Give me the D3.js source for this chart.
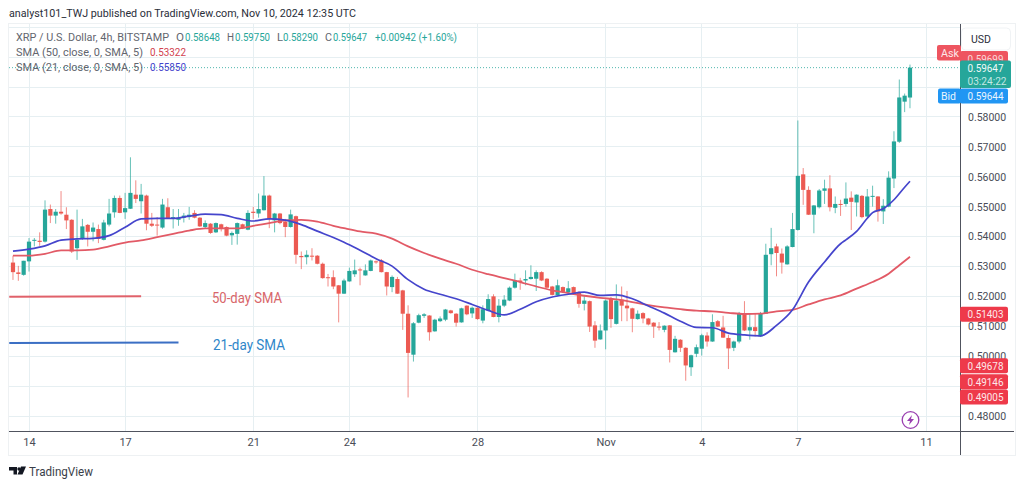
<!DOCTYPE html>
<html><head><meta charset="utf-8">
<script src="https://cdn.jsdelivr.net/npm/d3@7/dist/d3.min.js"></script>
<style>html,body{margin:0;padding:0;background:#fff}svg{display:block}text{font-family:Roboto,"Noto Sans",sans-serif}</style>
</head><body><svg id="c" width="1024" height="487"></svg>
<script>
const firstIndex = -3;
const opens = [.5313,.5280,.5272,.5317,.5386,.5386,.5383,.5492,.5470,.5483,.5473,.5456,.5361,.5392,.5439,.5416,.5425,.5389,.5440,.5481,
.5529,.5481,.5493,.5540,.5518,.5537,.5443,.5440,.5430,.5498,.5461,.5456,.5463,.5465,.5479,.5463,.5432,.5443,.5414,.5441,
.5432,.5404,.5409,.5441,.5423,.5483,.5477,.5488,.5537,.5454,.5477,.5450,.5432,.5468,.5335,.5331,.5336,.5336,.5309,.5264,
.5264,.5237,.5209,.5250,.5274,.5290,.5270,.5285,.5317,.5320,.5281,.5231,.5258,.5220,.5142,.5005,.5112,.5135,.5136,.5083,
.5117,.5122,.5153,.5142,.5113,.5169,.5143,.5162,.5119,.5153,.5200,.5131,.5169,.5186,.5229,.5253,.5253,.5258,.5259,.5281,
.5259,.5233,.5203,.5231,.5213,.5231,.5214,.5175,.5184,.5103,.5056,.5086,.5193,.5108,.5189,.5169,.5160,.5124,.5144,.5126,
.5112,.5099,.5088,.5103,.5013,.5055,.5028,.4963,.5008,.5025,.5069,.5049,.5117,.5096,.5061,.5028,.5049,.5143,.5086,.5097,
.5066,.5142,.5341,.5367,.5343,.5307,.5365,.5422,.5608,.5556,.5473,.5498,.5553,.5561,.5496,.5509,.5509,.5530,.5514,.5536,
.5467,.5534,.5534,.5484,.5500,.5594,.5717,.5851,.58648];
const highs = [.5336,.5302,.5319,.5395,.5395,.5414,.5521,.5507,.5492,.5552,.5498,.5458,.5490,.5459,.5442,.5447,.5440,.5456,.5526,.5537,
.5537,.5546,.5665,.5588,.5576,.5540,.5479,.5465,.5526,.5528,.5492,.5492,.5479,.5499,.5488,.5465,.5454,.5445,.5447,.5443,
.5434,.5417,.5447,.5443,.5488,.5499,.5544,.5602,.5540,.5479,.5479,.5459,.5490,.5470,.5350,.5354,.5361,.5338,.5313,.5275,
.5287,.5238,.5259,.5296,.5323,.5296,.5307,.5323,.5320,.5325,.5282,.5270,.5265,.5222,.5170,.5114,.5142,.5144,.5137,.5125,
.5133,.5158,.5155,.5144,.5162,.5170,.5166,.5164,.5170,.5207,.5207,.5191,.5204,.5233,.5276,.5262,.5287,.5304,.5287,.5284,
.5261,.5235,.5256,.5233,.5251,.5233,.5217,.5202,.5186,.5117,.5106,.5189,.5198,.5240,.5233,.5218,.5162,.5153,.5147,.5128,
.5114,.5114,.5103,.5104,.5068,.5057,.5030,.5005,.5039,.5075,.5080,.5140,.5121,.5135,.5072,.5052,.5148,.5184,.5144,.5144,
.5148,.5376,.5429,.5376,.5360,.5371,.5479,.5788,.5629,.5568,.5505,.5559,.5590,.5605,.5534,.5523,.5581,.5551,.5541,.5539,
.5559,.5570,.5535,.5525,.5618,.5752,.5925,.5878,.59750];
const lows = [.5255,.5252,.5269,.5283,.5367,.5369,.5380,.5445,.5443,.5473,.5425,.5345,.5322,.5389,.5367,.5384,.5378,.5387,.5434,.5463,
.5478,.5459,.5492,.5512,.5477,.5421,.5432,.5403,.5426,.5460,.5427,.5436,.5447,.5456,.5461,.5432,.5427,.5409,.5412,.5417,
.5401,.5372,.5373,.5425,.5421,.5459,.5463,.5487,.5428,.5414,.5441,.5398,.5430,.5309,.5291,.5307,.5320,.5307,.5259,.5233,
.5224,.5113,.5208,.5249,.5265,.5237,.5269,.5284,.5309,.5280,.5203,.5214,.5208,.5088,.4862,.4982,.5110,.5128,.5052,.5082,
.5114,.5117,.5142,.5099,.5112,.5137,.5128,.5122,.5110,.5152,.5130,.5113,.5164,.5184,.5226,.5222,.5237,.5256,.5218,.5251,
.5226,.5203,.5201,.5211,.5211,.5207,.5162,.5153,.5081,.5028,.5055,.5023,.5095,.5106,.5117,.5117,.5080,.5122,.5110,.5103,
.5061,.5086,.5080,.4979,.5012,.5014,.4918,.4934,.4997,.5002,.5032,.5048,.5097,.5061,.4957,.5017,.5043,.5084,.5055,.5066,
.5064,.5141,.5304,.5267,.5276,.5306,.5364,.5420,.5506,.5472,.5411,.5494,.5509,.5484,.5478,.5469,.5500,.5422,.5467,.5461,
.5465,.5500,.5450,.5442,.5498,.5562,.5713,.5816,.58290];
const closes = [.5281,.5275,.5319,.5383,.5389,.5382,.5490,.5470,.5483,.5477,.5454,.5350,.5389,.5434,.5416,.5430,.5392,.5447,.5477,.5529,
.5479,.5495,.5546,.5526,.5540,.5443,.5436,.5437,.5507,.5461,.5465,.5463,.5470,.5473,.5463,.5434,.5445,.5412,.5445,.5425,
.5403,.5412,.5445,.5427,.5479,.5479,.5492,.5537,.5459,.5477,.5445,.5432,.5474,.5339,.5331,.5339,.5334,.5309,.5261,.5262,
.5233,.5209,.5253,.5285,.5287,.5287,.5287,.5320,.5314,.5281,.5233,.5265,.5209,.5142,.5011,.5110,.5137,.5140,.5080,.5122,
.5126,.5156,.5144,.5112,.5160,.5140,.5162,.5124,.5157,.5191,.5131,.5169,.5189,.5229,.5253,.5248,.5258,.5265,.5281,.5253,
.5229,.5205,.5237,.5215,.5227,.5209,.5175,.5186,.5099,.5052,.5086,.5186,.5124,.5186,.5169,.5160,.5125,.5142,.5126,.5106,
.5099,.5097,.5102,.5021,.5058,.5028,.4969,.5003,.5030,.5070,.5049,.5114,.5099,.5062,.5026,.5049,.5144,.5086,.5097,.5084,
.5142,.5339,.5361,.5345,.5313,.5367,.5425,.5603,.5556,.5473,.5504,.5554,.5561,.5498,.5509,.5507,.5527,.5516,.5540,.5465,
.5534,.5536,.5484,.5503,.5597,.5718,.5865,.5871,.59647];

const sma21Idx = [-3,0,3,6,9,12,15,18,21,24,27,30,33,36,39,42,45,48,51,54,57,59,62,65,68,71,74,77,80,83,86,89,92,95,98,101,104,107,110,113,116,119,122,125,128,131,134,137,140,143,146,149,152,153,155,157,158,160,162,164,165];
const sma21Val = [.5351,.5358,.5369,.5388,.5392,.5394,.5403,.5431,.5459,.5461,.5461,.5468,.5475,.5473,.5461,.5452,.5459,.5455,.5440,.5418,.5397,.5381,.5354,.5326,.5301,.5256,.5224,.5207,.5192,.5173,.5153,.5138,.5157,.5182,.5198,.5207,.5214,.5203,.5205,.5192,.5168,.5144,.5117,.5096,.5095,.5077,.5071,.5068,.5103,.5155,.5248,.5315,.5376,.5389,.5417,.5461,.5480,.5493,.5523,.5565,.55850];
const sma50Idx = [-3,0,3,6,9,12,15,18,21,24,27,30,33,36,39,42,45,48,51,54,57,59,62,65,68,71,74,77,80,83,86,89,92,95,98,101,104,107,110,113,116,119,122,125,128,131,134,137,140,143,146,149,152,155,158,161,163,165];
const sma50Val = [.5336,.5336,.5342,.5354,.5354,.5356,.5367,.5380,.5387,.5398,.5409,.5420,.5427,.5427,.5427,.5436,.5445,.5454,.5456,.5450,.5436,.5428,.5417,.5410,.5393,.5367,.5345,.5326,.5309,.5289,.5274,.5261,.5248,.5233,.5220,.5211,.5202,.5195,.5190,.5181,.5171,.5163,.5157,.5152,.5150,.5145,.5141,.5142,.5150,.5155,.5173,.5190,.5203,.5226,.5248,.5276,.5304,.53322];

const dayTicks = [0,18,42,60,84,108,126,144,168];
const dayLabels = ["14","17","21","24","28","Nov","4","7","11"];
const priceGrid = [.48,.49,.50,.51,.52,.53,.54,.55,.56,.57,.58,.59,.60,.61];
const priceLabels = [.48,.50,.51,.52,.53,.54,.55,.56,.57,.58];
const lastClose = .59647;
const askPrice = .59699, bidPrice = .59644;
const redTags = [.51403,.49678,.49146,.49005];

const svg = d3.select("#c");
const x = d3.scaleLinear().domain([0,168]).range([29,926]);
const y = d3.scaleLinear().domain([.48,.59]).range([416,87]);
const L=9,R=960,T=24,B=431,FR=1015,FB=455;
const GREEN="#26a69a",RED="#ec5a52",BLUE="#4545cc",SMARED="#e25a66",TXT="#4a4d57",GREY="#62656e";

svg.append("rect").attr("x",8.5).attr("y",23.5).attr("width",FR-8).attr("height",FB-23).attr("fill","#fff").attr("stroke","#eef1f3");

const gridG = svg.append("g").attr("stroke","#e6eff2").attr("stroke-width",1).attr("shape-rendering","crispEdges");
gridG.selectAll("line.h").data(priceGrid).join("line").attr("class","h").attr("x1",L).attr("x2",R).attr("y1",d=>y(d)).attr("y2",d=>y(d));
gridG.selectAll("line.v").data(dayTicks).join("line").attr("class","v").attr("y1",T).attr("y2",B).attr("x1",d=>x(d)).attr("x2",d=>x(d));

function tx(px,py,s,col,size,w,weight){
  const t=svg.append("text").attr("x",px).attr("y",py).text(s).attr("fill",col).attr("font-size",size||11).attr("dominant-baseline","central").attr("font-weight",weight||400);
  if(w) t.attr("textLength",w).attr("lengthAdjust","spacingAndGlyphs");
  return t;
}
tx(9,13,"analyst101_TWJ published on TradingView.com, Nov 10, 2024 12:35 UTC","#2a2e39",11,347);

svg.append("line").attr("x1",L).attr("x2",R).attr("y1",y(lastClose)).attr("y2",y(lastClose)).attr("stroke",GREEN).attr("stroke-dasharray","1 2").attr("opacity",.8);

const candles = opens.map((o,k)=>({i:k+firstIndex,o,h:highs[k],l:lows[k],c:closes[k]}));
const cg = svg.append("g");
cg.selectAll("line").data(candles).join("line")
 .attr("x1",d=>x(d.i)).attr("x2",d=>x(d.i)).attr("y1",d=>y(d.h)).attr("y2",d=>y(d.l))
 .attr("stroke",d=>d.c>=d.o?GREEN:RED).attr("stroke-width",1).attr("stroke-opacity",.7);
cg.selectAll("rect").data(candles).join("rect")
 .attr("x",d=>x(d.i)-2.1).attr("width",4.2)
 .attr("y",d=>Math.min(y(d.o),y(d.c))).attr("height",d=>Math.max(1,Math.abs(y(d.o)-y(d.c))))
 .attr("fill",d=>d.c>=d.o?GREEN:RED);

const line = d3.line().x(d=>x(d[0])).y(d=>y(d[1])).curve(d3.curveMonotoneX);
svg.append("path").attr("d",line(d3.zip(sma50Idx,sma50Val))).attr("fill","none").attr("stroke",SMARED).attr("stroke-width",1.8);
svg.append("path").attr("d",line(d3.zip(sma21Idx,sma21Val))).attr("fill","none").attr("stroke",BLUE).attr("stroke-width",1.7);

const note50 = [[-3.7,.5199],[21,.5200]], note21 = [[-3.7,.5044],[28,.5046]];
const ln = d3.line().x(d=>x(d[0])).y(d=>y(d[1]));
svg.append("path").attr("d",ln(note50)).attr("stroke","#e0616a").attr("stroke-width",2).attr("fill","none");
svg.append("path").attr("d",ln(note21)).attr("stroke","#3b6fc4").attr("stroke-width",2).attr("fill","none");
tx(212,298,"50-day SMA","#d8666a",14,70);
tx(213,344.5,"21-day SMA","#2f86c9",14,72);

const axX = d3.axisBottom(x).tickValues(dayTicks).tickFormat((d,k)=>dayLabels[k]).tickSize(0).tickPadding(7);
const gx = svg.append("g").attr("transform",`translate(0,${B})`).call(axX);
gx.select(".domain").remove();
gx.selectAll("text").attr("font-size",11).attr("fill",TXT).attr("font-family","Roboto");
const axY = d3.axisRight(y).tickValues(priceLabels).tickFormat(d3.format(".5f")).tickSize(0).tickPadding(8);
const gy = svg.append("g").attr("transform",`translate(${R},0)`).call(axY);
gy.select(".domain").remove();
gy.selectAll("text").attr("font-size",10.5).attr("fill",TXT).attr("font-family","Roboto");
svg.append("line").attr("x1",L).attr("x2",FR-1).attr("y1",B+.5).attr("y2",B+.5).attr("stroke","#50535e");
svg.append("line").attr("x1",R+.5).attr("x2",R+.5).attr("y1",T).attr("y2",FB).attr("stroke","#50535e");

function tag(px,py,w,h,fill){svg.append("rect").attr("x",px).attr("y",py).attr("width",w).attr("height",h).attr("rx",2).attr("fill",fill);}
// red tags stack downward when they would collide, as the price scale does
let prevY=-99;
redTags.forEach(p=>{
  const cy=Math.max(y(p),prevY+15.2); prevY=cy;
  tag(R,cy-7.5,48,15,"#ee3a4a");
  tx(R+7.5,cy+.3,d3.format(".5f")(p),"#fde8ea",10.5,36);
});
svg.append("rect").attr("x",R+1.5).attr("y",28).attr("width",49).attr("height",22).attr("rx",4).attr("fill","#fff").attr("stroke","#f0f3f5");
tx(971,39,"USD","#2a2e39",11,20);
tag(R,y(askPrice)-15,48,16,"#ee5560");
tx(R+7.5,y(askPrice)-7,d3.format(".5f")(askPrice),"#fbd5d8",10.5,36);
tag(937,45,24,15.5,"#ee5560");tx(941,53,"Ask","#fde8ea",11,18);
tag(R,60.5,51,27.5,GREEN);
tx(R+7.5,68,d3.format(".5f")(lastClose),"#f1faf8",10.5,36);
tx(R+7.5,81,"03:24:22","#c3e8e3",10.5,39);
tag(R,88.5,48,15,"#2196f3");
tx(R+7.5,96.3,d3.format(".5f")(bidPrice),"#eaf5fe",10.5,36);
tag(938,88.5,23,15,"#2196f3");tx(941,96.3,"Bid","#eaf5fe",11,15);

[["XRP / U.S. Dollar, 4h, BITSTAMP",16,GREY,153],["O",176,GREY,8],["0.58648",185,GREEN,35],["H",227,GREY,7],["0.59750",235,GREEN,35],["L",277,GREY,6],["0.58290",283,GREEN,35],["C",325,GREY,7],["0.59647",333,GREEN,34],["+0.00942 (+1.60%)",375,GREEN,82]]
 .forEach(a=>tx(a[1],37,a[0],a[2],10.8,a[3]));
tx(16,52,"SMA (50, close, 0, SMA, 5)",GREY,10.8,127);tx(150,52,"0.53322","#d2424f",10.8,36);
tx(16,67,"SMA (21, close, 0, SMA, 5)",GREY,10.8,127);tx(150,67,"0.55850",BLUE,10.8,36);

const ig=svg.append("g").attr("transform","translate(910.5,420)");
ig.append("circle").attr("r",8.3).attr("fill","#fff").attr("stroke","#9a3fb0").attr("stroke-width",1.3);
ig.append("path").attr("d","M1.5,-5 L-3.5,1 L-0.5,1 L-1.5,5 L3.5,-1 L0.5,-1 Z").attr("fill","#9a3fb0");

svg.append("path").attr("d","M9,467 h8 v7.5 h-3.5 v-4 h-4.5 Z M17.5,474.5 l3.5,-8 h5 l-3.5,8 Z").attr("fill","#131722");
svg.append("circle").attr("cx",19).attr("cy",469).attr("r",1.7).attr("fill","#131722");
tx(29,471.5,"TradingView","#3a3e49",12,64);
</script></body></html>
